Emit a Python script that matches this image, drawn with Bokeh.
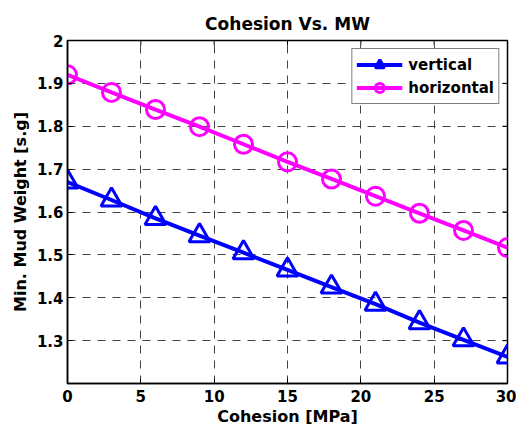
import math
from bokeh.plotting import figure
from bokeh.models import FixedTicker, Range1d, Legend, LegendItem
from bokeh.embed import file_html
from bokeh.resources import INLINE

cohesion = [0, 3, 6, 9, 12, 15, 18, 21, 24, 27, 30]
vertical = [1.67, 1.628, 1.585, 1.545, 1.505, 1.465, 1.425, 1.385, 1.342, 1.302, 1.262]
horizontal = [1.92, 1.879, 1.839, 1.799, 1.758, 1.717, 1.677, 1.637, 1.597, 1.557, 1.517]
x_ticks = [0, 5, 10, 15, 20, 25, 30]
y_ticks = [1.3, 1.4, 1.5, 1.6, 1.7, 1.8, 1.9, 2.0]
x_min, x_max = 0, 30
y_min, y_max = 1.2, 2.0

FONT = "DejaVu Sans"

p = figure(width=516, height=428, output_backend="svg", toolbar_location=None,
           x_range=Range1d(x_min, x_max), y_range=Range1d(y_min, y_max),
           min_border_left=67, min_border_right=9, min_border_top=40, min_border_bottom=45,
           title="Cohesion Vs. MW")
p.frame_width = 440
p.frame_height = 343

p.title.align = "center"
p.title.text_font = FONT
p.title.text_font_size = "17px"
p.title.text_font_style = "bold"
p.title.text_color = "black"
p.title.standoff = 13

p.outline_line_color = "black"
p.outline_line_width = 1.5
p.background_fill_color = "white"
p.border_fill_color = "white"

for ax in (p.xaxis[0], p.yaxis[0]):
    ax.major_label_text_font = FONT
    ax.major_label_text_font_size = "15px"
    ax.major_label_text_font_style = "bold"
    ax.major_label_text_color = "black"
    ax.axis_label_text_font = FONT
    ax.axis_label_text_font_size = "16px"
    ax.axis_label_text_font_style = "bold"
    ax.axis_label_text_color = "black"
    ax.major_tick_in = 5
    ax.major_tick_out = 0
    ax.minor_tick_line_color = None
    ax.axis_line_color = "black"
    ax.axis_line_width = 1.5
    ax.major_tick_line_color = "black"

p.xaxis[0].ticker = FixedTicker(ticks=x_ticks)
p.yaxis[0].ticker = FixedTicker(ticks=y_ticks)
p.yaxis[0].major_label_overrides = {2: "2", 2.0: "2"}
p.xaxis[0].axis_label = "Cohesion [MPa]"
p.yaxis[0].axis_label = "Min. Mud Weight [s.g]"
p.xaxis[0].major_label_standoff = 6
p.xaxis[0].axis_label_standoff = 2
p.yaxis[0].major_label_standoff = 4
p.yaxis[0].axis_label_standoff = 4

p.xgrid.ticker = FixedTicker(ticks=x_ticks)
p.ygrid.ticker = FixedTicker(ticks=y_ticks)
for g in (p.xgrid[0], p.ygrid[0]):
    g.grid_line_color = "#222222"
    g.grid_line_dash = "8 7"
    g.grid_line_width = 1
    g.grid_line_alpha = 0.85

# inward ticks on the top and right edges of the box
p.ray(x=x_ticks, y=[y_max] * len(x_ticks), length=5, length_units="screen",
      angle=-math.pi / 2, line_color="black", line_width=1)
p.ray(x=[x_max] * len(y_ticks), y=y_ticks, length=5, length_units="screen",
      angle=math.pi, line_color="black", line_width=1)

lv = p.line(cohesion, vertical, line_color="#0000ff", line_width=4)
sv = p.scatter(cohesion, vertical, marker="triangle", size=21, line_color="#0000ff",
               line_width=3, fill_alpha=0)
lh = p.line(cohesion, horizontal, line_color="#ff00ff", line_width=4)
sh = p.scatter(cohesion, horizontal, marker="circle", size=18, line_color="#ff00ff",
               line_width=3, fill_alpha=0)

legend = Legend(items=[LegendItem(label="vertical", renderers=[lv, sv]),
                       LegendItem(label="horizontal", renderers=[lh, sh])],
                location="top_right")
legend.label_text_font = FONT
legend.label_text_font_size = "15px"
legend.label_text_font_style = "bold"
legend.label_text_color = "black"
legend.border_line_color = "black"
legend.border_line_width = 1.5
legend.background_fill_alpha = 1
legend.glyph_width = 46
legend.glyph_height = 23
legend.spacing = 0
legend.padding = 4
legend.margin = 8
legend.label_standoff = 6
p.add_layout(legend)

open("out.html", "w").write(file_html(p, INLINE))
